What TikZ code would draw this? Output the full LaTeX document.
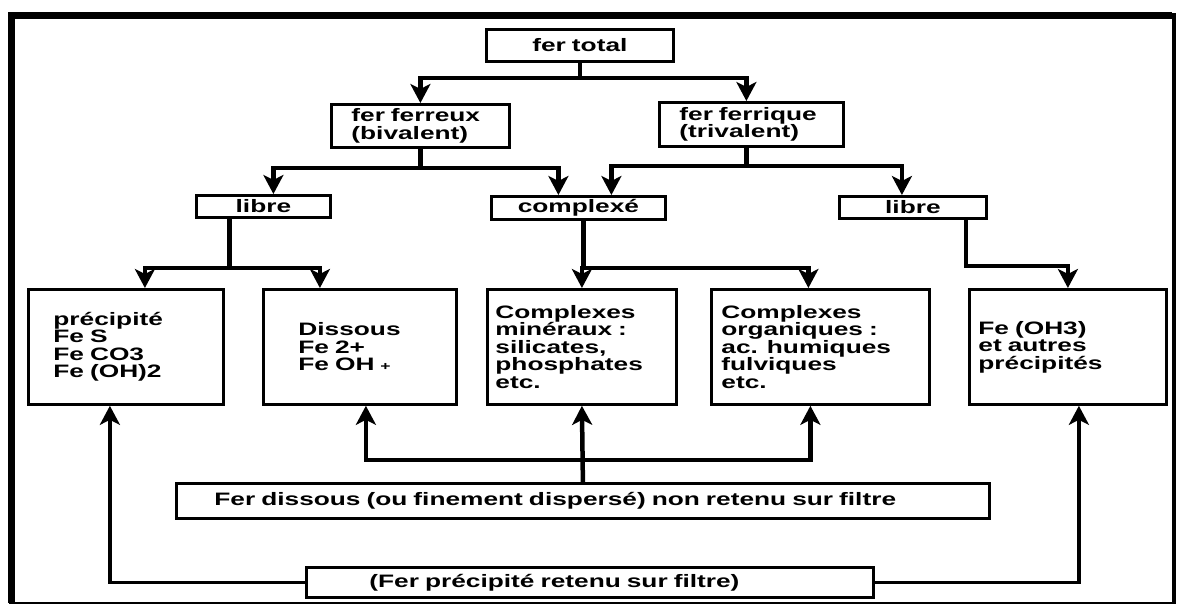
\documentclass[tikz,border=0pt]{standalone}
\usepackage{fontspec}
\setmainfont{Liberation Sans}[FakeStretch=1.46]
\usetikzlibrary{positioning,calc,arrows.meta}

\begin{document}
\begin{tikzpicture}[x=1pt,y=-1pt,->,>={Stealth[length=19pt,width=20pt,inset=5pt]},
        line width=4.5pt,
        every node/.style={font=\bfseries\fontsize{18}{17.5}\selectfont},
        main node/.style={draw, rectangle, line width=2.8pt, anchor=north west, align=left, inner ysep=0pt}]

\useasboundingbox (0,0) rectangle (1179,605);

% frame
\draw[-, line width=7pt] (11,603) -- (11,15.5) -- (1172,15.5);
\draw[-, line width=4pt] (1174,13) -- (1174,603);
\draw[-, line width=1.5pt] (9,603) -- (1176,603);

\node[main node, align=center, text width=147pt, inner xsep=20pt, minimum height=32pt] (1) at (485,28) {fer total};

\node[main node, text width=138pt, inner xsep=20pt, minimum height=43pt] (2) at (330,103) {fer ferreux\\(bivalent)};
\node[main node, text width=144pt, inner xsep=20pt, minimum height=44pt] (3) at (658,101) {fer ferrique\\(trivalent)};

\node[main node, align=center, text width=114pt, inner xsep=10pt, minimum height=22pt] (4) at (195,194) {libre};
\node[main node, align=center, text width=154pt, inner xsep=10pt, minimum height=23pt] (5) at (490,195) {complexé};
\node[main node, align=center, text width=127pt, inner xsep=10pt, minimum height=22pt] (6) at (838,195) {libre};

\node[main node, text width=145pt, inner xsep=25pt, minimum height=115pt] (7) at (27,288) {précipité\\Fe S\\Fe CO3\\Fe (OH)2};
\node[main node, text width=123pt, inner xsep=35pt, minimum height=115pt] (8) at (262,288) {Dissous\\Fe 2+\\Fe OH {\fontsize{12}{12}\selectfont +}};
\node[main node, text width=173pt, inner xsep=8pt, minimum height=115pt] (9) at (486,288) {Complexes\\minéraux :\\silicates,\\phosphates\\etc.};
\node[main node, text width=198pt, inner xsep=10pt, minimum height=115pt] (10) at (710,288) {Complexes\\organiques :\\ac. humiques\\fulviques\\etc.};
\node[main node, text width=179pt, inner xsep=9pt, minimum height=115pt] (11) at (968,288) {Fe (OH3)\\et autres\\précipités};

\node[main node, text width=737pt, inner xsep=38pt, minimum height=35pt] (12) at (175,482) {Fer dissous (ou finement dispersé) non retenu sur filtre};
\node[main node, text width=441pt, inner xsep=63pt, minimum height=30pt] (13) at (305,566) {(Fer précipité retenu sur filtre)};

\draw (1.south) -- ++(0,15) -| (2.north);
\draw (1.south) -- ++(0,15) -| ([xshift=-5pt]3.north);

\draw (2.south) -- ++(0,19) -| ([xshift=10pt]4.north);
\draw (2.south) -- ++(0,19) -| ([xshift=-20pt]5.north);
\draw ([xshift=-5pt]3.south) -- ++(0,18) -| ([xshift=33pt]5.north);
\draw ([xshift=-5pt]3.south) -- ++(0,18) -| ([xshift=-11pt]6.north);

\draw ([xshift=-34pt]4.south) -- ++(0,49) -| ([xshift=19pt]7.north);
\draw ([xshift=-34pt]4.south) -- ++(0,49) -| ([xshift=-40pt]8.north);
\draw ([xshift=5pt]5.south) -- ++(0,47) -| (9.north);
\draw ([xshift=5pt]5.south) -- ++(0,47) -| ([xshift=-12pt]10.north);
\draw ([xshift=53pt]6.south) -- ++(0,46) -| (11.north);

\draw (12.north) -- (9.south);
\draw (12.north) -- ++(0,-22) -| ([xshift=6pt]8.south);
\draw (12.north) -- ++(0,-22) -| ([xshift=-10pt]10.south);

\draw[line width=3.5pt] (13.west) -| ([xshift=-16pt]7.south);
\draw[line width=3.5pt] (13.east) -| ([xshift=11pt]11.south);

\end{tikzpicture}
\end{document}
